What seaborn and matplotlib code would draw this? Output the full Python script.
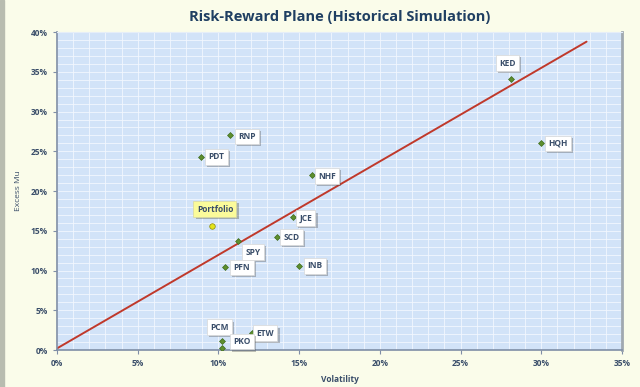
import numpy as np
import pandas as pd
import matplotlib
matplotlib.use("Agg")
import matplotlib.pyplot as plt
import matplotlib.patheffects as pe
from matplotlib.ticker import MultipleLocator, PercentFormatter
import seaborn as sns

sns.set_style("white")
plt.rcParams['font.family'] = ['Open Sans', 'DejaVu Sans']

# data (percent)
tickers = ["KED", "HQH", "RNP", "PDT", "NHF", "JCE", "SCD", "SPY", "PFN", "INB", "ETW", "PCM", "PKO"]
volatility = [28.1, 30.0, 10.7, 8.9, 15.8, 14.6, 13.6, 11.2, 10.4, 15.0, 12.1, 10.2, 10.2]
excess_mu = [34.1, 26.0, 27.0, 24.3, 22.0, 16.7, 14.2, 13.7, 10.4, 10.6, 2.1, 1.1, 0.3]
portfolio_vol = [9.6]
portfolio_mu = [15.6]
line_x = [0.0, 32.8]
line_y = [0.2, 38.8]

# label offsets in pixels (dx, dy)
offsets = {"KED": (-3, 16), "HQH": (17, 0), "RNP": (17, -1), "PDT": (16, 0), "NHF": (15, -1),
           "JCE": (13, -1), "SCD": (15, 0), "SPY": (15, -11), "PFN": (17, 0), "INB": (16, 0),
           "ETW": (13, 0), "PCM": (-2, 14), "PKO": (20, 6)}

df = pd.DataFrame({"ticker": tickers, "vol": volatility, "mu": excess_mu})

txt = "#3a4e6a"
fig = plt.figure(figsize=(6.4, 3.87), dpi=100, facecolor="#fafcea")
ax = fig.add_axes([0.089, 0.0956, 0.883, 0.8214])
ax.set_facecolor("#d2e3f8")

ax.plot(line_x, line_y, color="#c0392b", lw=1.4, zorder=2)

sns.scatterplot(data=df, x="vol", y="mu", ax=ax, marker="D", s=9, color="#5e8f2f",
                edgecolor="#3d6b1d", linewidth=0.5, zorder=4, legend=False)
sns.scatterplot(x=portfolio_vol, y=portfolio_mu, ax=ax, marker="o", s=16, color="#e4e41a",
                edgecolor="#8a8a10", linewidth=0.5, zorder=4, legend=False)

shadow = [pe.withSimplePatchShadow(offset=(1.5, -1.5), alpha=0.35)]
for t, x, y in zip(tickers, volatility, excess_mu):
    dx, dy = offsets[t]
    ax.annotate(t, (x, y), xytext=(dx, dy), textcoords="offset pixels", ha="center", va="center",
                fontsize=6, fontweight="bold", color=txt, zorder=5,
                bbox=dict(boxstyle="square,pad=0.4", fc="white", ec="#d8d8d8", lw=0.5,
                          path_effects=shadow))
ax.annotate("Portfolio", (portfolio_vol[0], portfolio_mu[0]), xytext=(3, 17), textcoords="offset pixels",
            ha="center", va="center", fontsize=6, fontweight="bold", color=txt, zorder=5,
            bbox=dict(boxstyle="square,pad=0.4", fc="#fbfb9a", ec="#d8d8a0", lw=0.5, path_effects=shadow))

ax.set_xlim(0, 35)
ax.set_ylim(0, 40)
ax.xaxis.set_major_locator(MultipleLocator(5))
ax.yaxis.set_major_locator(MultipleLocator(5))
ax.xaxis.set_minor_locator(MultipleLocator(1))
ax.yaxis.set_minor_locator(MultipleLocator(1))
ax.xaxis.set_major_formatter(PercentFormatter(decimals=0))
ax.yaxis.set_major_formatter(PercentFormatter(decimals=0))
ax.grid(which="both", color="#f2f7ff", lw=0.6)
ax.set_axisbelow(True)
ax.tick_params(axis="both", which="major", labelsize=6, labelcolor=txt, length=3, color="#7f8ea6",
               direction="out", left=True, bottom=True)
ax.tick_params(which="minor", length=0)
for lab in ax.get_xticklabels() + ax.get_yticklabels():
    lab.set_fontweight("bold")

for s in ["left", "bottom"]:
    ax.spines[s].set_color("#7f8ea6")
    ax.spines[s].set_linewidth(1.2)
ax.spines["right"].set_color("#a0a8b0")
ax.spines["right"].set_linewidth(2)
ax.spines["top"].set_color("#e6eef8")

ax.set_xlabel("Volatility", fontsize=6, fontweight="bold", color=txt, labelpad=5)
ax.set_ylabel("Excess Mu", fontsize=6, color=txt, labelpad=6)
fig.suptitle("Risk-Reward Plane (Historical Simulation)", x=0.53, y=0.975, fontsize=10.5,
             fontweight="bold", color="#1f3f62")

# grey frame at the left edge
fig.patches.append(plt.Rectangle((0, 0), 0.006, 1, transform=fig.transFigure, color="#b8bcb0", zorder=0))

fig.savefig("out.png", dpi=100, facecolor=fig.get_facecolor())
